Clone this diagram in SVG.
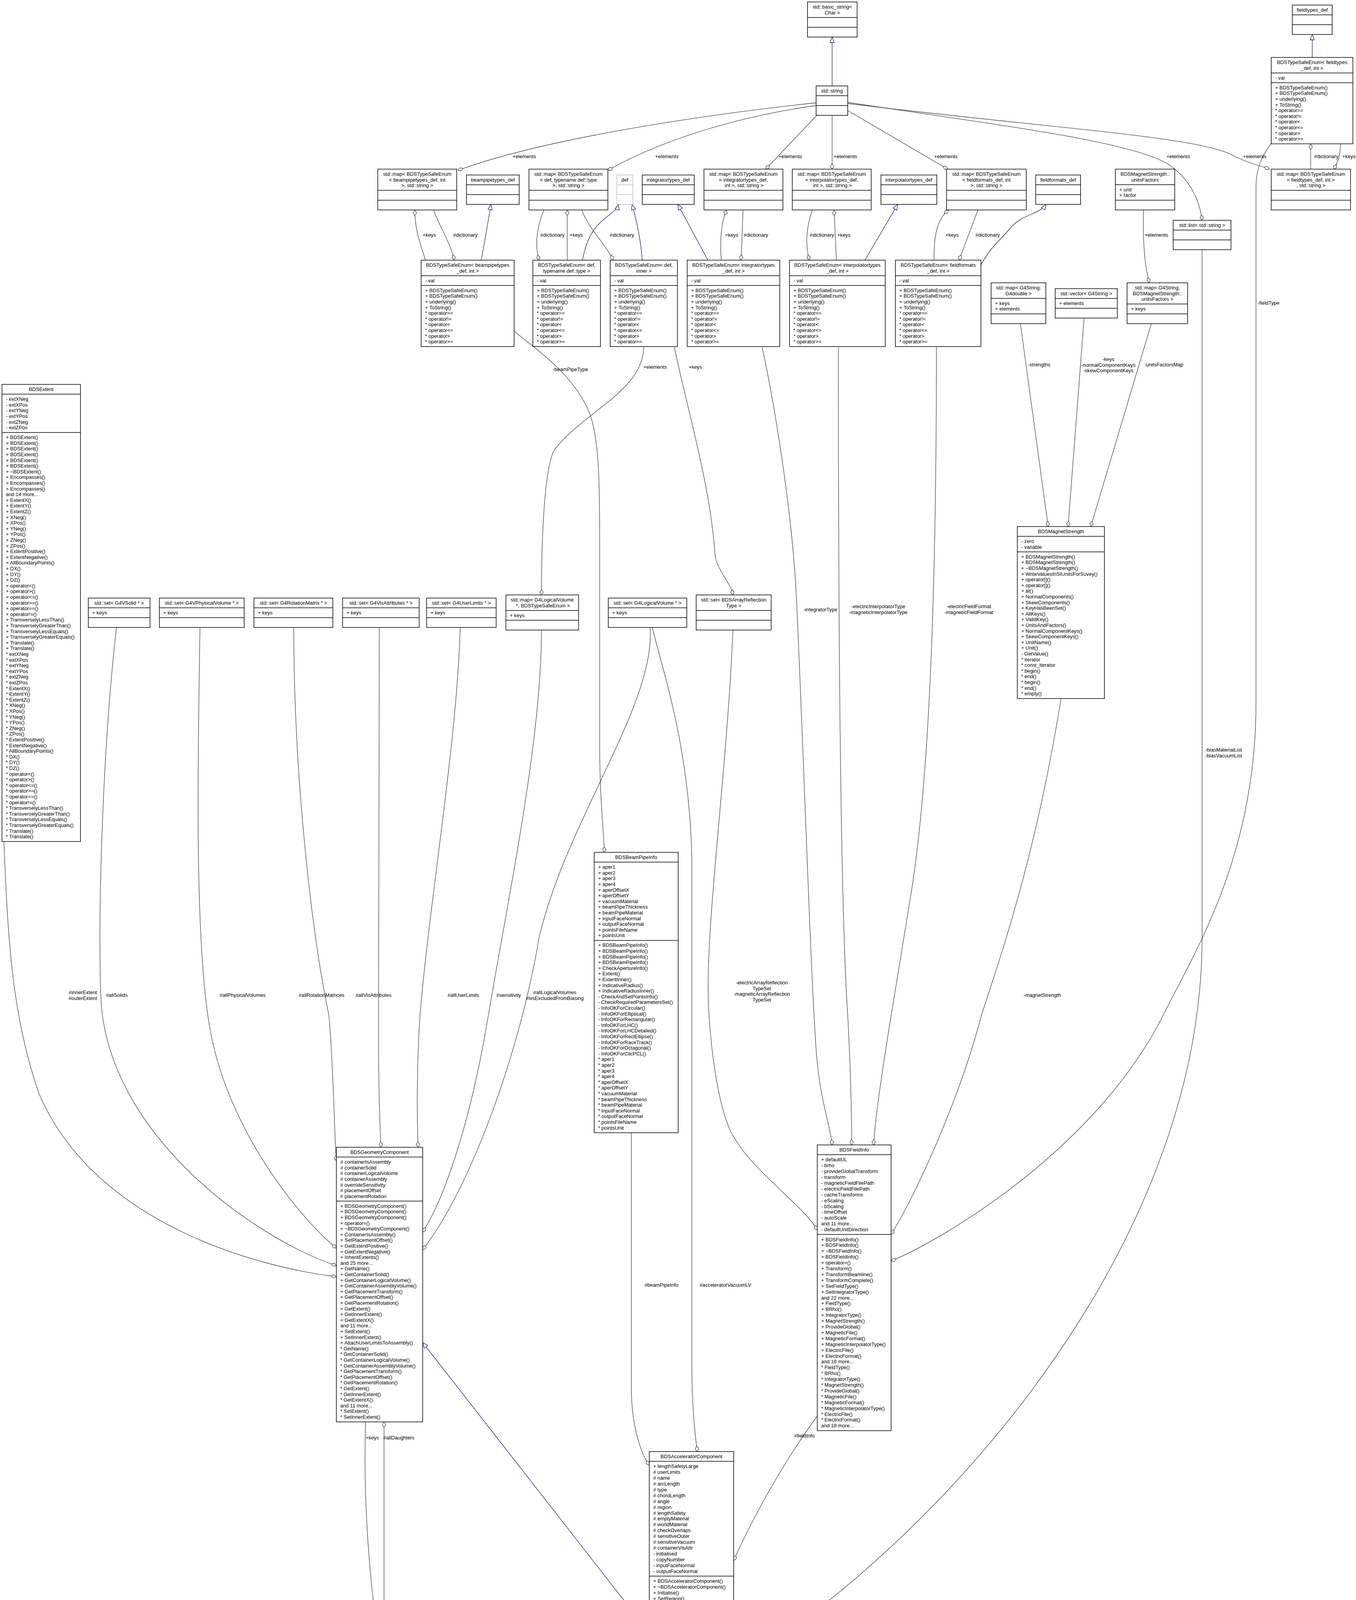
<svg xmlns="http://www.w3.org/2000/svg" width="3471" height="5199" viewBox="0 0 3471 5199">
<style>
text{font-family:"Liberation Sans",Arial,Helvetica,sans-serif;font-size:12.9px;fill:#000}
.c{text-anchor:middle}
.b{fill:#fff;stroke:#000;stroke-width:1.5}
.g{fill:#bfbfbf;stroke:#000;stroke-width:1.5}
.gb{fill:#fff;stroke:#bfbfbf;stroke-width:1.5}
.s{fill:none;stroke:#000;stroke-width:1.5}
.sg{fill:none;stroke:#bfbfbf;stroke-width:1.5}
.e{fill:none;stroke:#404040;stroke-width:1.3;marker-end:url(#dia)}
.i{fill:none;stroke:#191970;stroke-width:1.3;marker-end:url(#tri)}
</style>
<defs>
<marker id="dia" viewBox="-1 -6 16 12" refX="14" refY="0" markerWidth="16" markerHeight="12" markerUnits="userSpaceOnUse" orient="auto"><path d="M0,0 L7,-4.5 L14,0 L7,4.5 Z" fill="#fff" stroke="#404040" stroke-width="1.3"/></marker>
<marker id="tri" viewBox="-1 -7 16 14" refX="14" refY="0" markerWidth="16" markerHeight="14" markerUnits="userSpaceOnUse" orient="auto"><path d="M0,-5.5 L14,0 L0,5.5 Z" fill="#fff" stroke="#191970" stroke-width="1.3"/></marker>
</defs>
<rect width="3471" height="5199" fill="#fff"/>

<g id="connectors">
<path class="i" d="M2130,220 L2130,95"/>
<path class="i" d="M3359,147 L3359,88"/>
<path class="i" d="M1232,666 L1257,523"/>
<path class="i" d="M1491,666 C1505,590 1535,570 1560,550 C1572,540 1580,535 1583,523"/>
<path class="i" d="M1644,666 C1640,610 1628,560 1618,523"/>
<path class="i" d="M1812,666 L1735,523"/>
<path class="i" d="M2214,666 L2298,523"/>
<path class="i" d="M2511,678 C2540,625 2565,612 2585,585 C2620,545 2660,550 2678,523"/>
<path class="i" d="M1662,4180 L1082,3437"/>
<path class="i" d="M1600,5013 C1620,4930 1645,4820 1662,4740"/>
<path class="i" d="M1800,5013 L1803,4954"/>
<path class="e" d="M2089,263 C1750,300 1380,360 1172,436"/>
<path class="e" d="M2089,270 C1880,300 1690,360 1556,436"/>
<path class="e" d="M2091,295 L1960,433"/>
<path class="e" d="M2130,295 L2130,433"/>
<path class="e" d="M2170,283 L2426,433"/>
<path class="e" d="M2170,262 C2550,320 2890,360 2990,420 C3050,460 3072,520 3077,564"/>
<path class="e" d="M2170,265 C2700,330 3080,350 3160,400 C3200,420 3230,425 3249,433"/>
<path class="e" d="M3355,433 L3355,369"/>
<path class="e" d="M3431,369 C3432,395 3425,415 3414,433"/>
<path class="e" d="M1089,666 C1075,620 1062,590 1062,538"/>
<path class="e" d="M1110,538 C1125,580 1150,615 1163,666"/>
<path class="e" d="M1392,538 C1375,580 1368,625 1380,666"/>
<path class="e" d="M1452,666 L1452,538"/>
<path class="e" d="M1489,538 C1510,590 1550,625 1570,666"/>
<path class="e" d="M1846,666 C1843,620 1845,570 1860,538"/>
<path class="e" d="M1902,538 L1897,666"/>
<path class="e" d="M2079,538 C2065,580 2060,625 2072,666"/>
<path class="e" d="M2141,666 L2135,538"/>
<path class="e" d="M2391,666 C2390,600 2400,560 2428,538"/>
<path class="e" d="M2503,538 L2455,666"/>
<path class="e" d="M2927,538 C2925,620 2930,680 2942,724"/>
<path class="e" d="M2612,829 L2683,1348"/>
<path class="e" d="M2775,814 L2734,1348"/>
<path class="e" d="M2947,829 L2792,1348"/>
<path class="e" d="M1316,848 C1380,900 1470,960 1510,1060 C1535,1130 1535,1250 1535,1400 L1535,1900 C1535,2050 1545,2120 1547,2182"/>
<path class="e" d="M1648,889 C1645,1000 1500,1050 1420,1150 C1390,1200 1386,1420 1386,1523"/>
<path class="e" d="M1726,889 C1760,1050 1820,1250 1830,1420 C1835,1460 1870,1490 1876,1523"/>
<path class="e" d="M1951,889 C1975,1000 2030,1300 2040,1560 C2060,2000 2075,2500 2090,2700 C2100,2820 2125,2880 2130,2931"/>
<path class="e" d="M2146,889 C2146,1500 2150,2300 2170,2600 C2178,2750 2180,2850 2180,2931"/>
<path class="e" d="M2397,889 C2397,1500 2380,2000 2330,2300 C2290,2550 2245,2800 2236,2931"/>
<path class="e" d="M1876,1613 C1860,2000 1800,2400 1815,2600 C1825,2750 1850,2870 1881,2915 C1930,3000 2060,3090 2092,3149"/>
<path class="e" d="M2716,1788 C2650,2200 2560,2450 2512,2600 C2460,2800 2350,3050 2281,3160"/>
<path class="e" d="M3254,367 C3230,400 3215,430 3215,480 L3215,1800 C3215,2200 3050,2450 2977,2600 C2800,2950 2400,3180 2281,3228"/>
<path class="e" d="M3077,639 L3077,2400 C3077,3200 2400,3950 1878,4270"/>
<path class="e" d="M2092,3625 C2000,3750 1920,3900 1878,3995"/>
<path class="e" d="M1616,2900 L1616,3550 C1616,3650 1640,3720 1662,3751"/>
<path class="e" d="M1670,1606 C1690,1700 1765,1900 1771,2200 L1771,3500 C1771,3600 1780,3680 1785,3716"/>
<path class="e" d="M1664,1606 C1680,1800 1450,2100 1380,2400 C1330,2700 1200,3050 1082,3199"/>
<path class="e" d="M1386,1613 C1386,1900 1300,2300 1250,2600 C1200,2900 1130,3080 1082,3154"/>
<path class="e" d="M1178,1606 C1170,1900 1100,2300 1075,2600 C1065,2750 1068,2870 1070,2937"/>
<path class="e" d="M971,1606 L969,2600 C968,2800 973,2880 975,2937"/>
<path class="e" d="M752,1606 C752,2000 800,2400 842,2600 C855,2750 855,2900 861,2972"/>
<path class="e" d="M512,1606 C505,2000 500,2400 535,2620 C580,2900 780,3130 861,3195"/>
<path class="e" d="M298,1606 C265,1900 250,2300 258,2550 C270,2900 650,3170 861,3240"/>
<path class="e" d="M10,2154 C20,2400 30,2600 100,2800 C250,3150 700,3250 861,3268"/>
<path class="e" d="M936,3640 C930,3800 940,4000 968,4197"/>
<path class="e" d="M983,4197 L983,3640"/>
<path class="e" d="M1806,5013 L1812,4954"/>
</g>

<g id="edge-labels" class="c">
<text x="1342" y="405">+elements</text>
<text x="1707" y="405">+elements</text>
<text x="2023" y="405">+elements</text>
<text x="2164" y="405">+elements</text>
<text x="2421" y="405">+elements</text>
<text x="3016" y="405">+elements</text>
<text x="3212" y="405">+elements</text>
<text x="3395" y="405">#dictionary</text>
<text x="3453" y="405">+keys</text>
<text x="1099" y="606">+keys</text>
<text x="1191" y="606">#dictionary</text>
<text x="1414" y="606">#dictionary</text>
<text x="1475" y="606">+keys</text>
<text x="1592" y="606">#dictionary</text>
<text x="1873" y="606">+keys</text>
<text x="1935" y="606">#dictionary</text>
<text x="2104" y="606">#dictionary</text>
<text x="2160" y="606">+keys</text>
<text x="2437" y="606">+keys</text>
<text x="2528" y="606">#dictionary</text>
<text x="2960" y="606">+elements</text>
<text x="2660" y="938">-strengths</text>
<text x="2837" y="924">-keys<tspan x="2837" dy="14.6">-normalComponentKeys</tspan><tspan x="2837" dy="14.6">-skewComponentKeys</tspan></text>
<text x="2979" y="938">-unitsFactorsMap</text>
<text x="3247" y="780">-fieldType</text>
<text x="3132" y="1924">-biasMaterialList<tspan x="3132" dy="14.6">-biasVacuumList</tspan></text>
<text x="1460" y="950">-beamPipeType</text>
<text x="1677" y="944">+elements</text>
<text x="1780" y="944">+keys</text>
<text x="2100" y="1565">-integratorType</text>
<text x="2248" y="1557">-electricInterpolatorType<tspan x="2248" dy="14.6">-magneticInterpolatorType</tspan></text>
<text x="2480" y="1557">-electricFieldFormat<tspan x="2480" dy="14.6">-magneticFieldFormat</tspan></text>
<text x="212" y="2545">#innerExtent<tspan x="212" dy="14.6">#outerExtent</tspan></text>
<text x="299" y="2552">#allSolids</text>
<text x="621" y="2552">#allPhysicalVolumes</text>
<text x="823" y="2552">#allRotationMatrices</text>
<text x="956" y="2552">#allVisAttributes</text>
<text x="1186" y="2552">#allUserLimits</text>
<text x="1302" y="2552">#sensitivity</text>
<text x="1420" y="2545">#allLogicalVolumes<tspan x="1420" dy="14.6">#lvsExcludedFromBiasing</tspan></text>
<text x="1950" y="2520">-electricArrayReflection<tspan x="1950" dy="14.6">TypeSet</tspan><tspan x="1950" dy="14.6">-magneticArrayReflection</tspan><tspan x="1950" dy="14.6">TypeSet</tspan></text>
<text x="2668" y="2552">-magnetStrength</text>
<text x="1693" y="3294">#beamPipeInfo</text>
<text x="1857" y="3294">#acceleratorVacuumLV</text>
<text x="2059" y="3680">#fieldInfo</text>
<text x="953" y="3685">+keys</text>
<text x="1021" y="3685">#allDaughters</text>
<text x="1812" y="4975" style="text-anchor:start">#endPieceAfter<tspan x="1812" dy="14.6">#endPieceBefore</tspan></text>
</g>

<g id="n_basic_string">
<rect class="b" x="2067" y="5" width="127" height="89.9"/>
<path class="s" d="M2067,44.7H2194M2067,69.8H2194"/>
<text class="c" x="2130.5" y="22">std::basic_string&lt;<tspan x="2130.5" dy="14.6">Char &gt;</tspan></text>
</g>
<g id="n_fieldtypes_def">
<rect class="b" x="3308" y="13" width="102" height="75.3"/>
<path class="s" d="M3308,38.1H3410M3308,63.2H3410"/>
<text class="c" x="3359" y="30">fieldtypes_def</text>
</g>
<g id="n_string">
<rect class="b" x="2089" y="220" width="81" height="75.3"/>
<path class="s" d="M2089,245.1H2170M2089,270.2H2170"/>
<text class="c" x="2129.5" y="237">std::string</text>
</g>
<g id="n_tse_fieldtypes">
<rect class="b" x="3254" y="147" width="209" height="221.3"/>
<path class="s" d="M3254,186.7H3463M3254,211.8H3463"/>
<text class="c" x="3358.5" y="164">BDSTypeSafeEnum&lt; fieldtypes<tspan x="3358.5" dy="14.6">_def, int &gt;</tspan></text>
<text x="3264" y="203.7">- val</text>
<text x="3264" y="228.8">+ BDSTypeSafeEnum()<tspan x="3264" dy="14.6">+ BDSTypeSafeEnum()</tspan><tspan x="3264" dy="14.6">+ underlying()</tspan><tspan x="3264" dy="14.6">+ ToString()</tspan><tspan x="3264" dy="14.6">* operator==</tspan><tspan x="3264" dy="14.6">* operator!=</tspan><tspan x="3264" dy="14.6">* operator&lt;</tspan><tspan x="3264" dy="14.6">* operator&lt;=</tspan><tspan x="3264" dy="14.6">* operator&gt;</tspan><tspan x="3264" dy="14.6">* operator&gt;=</tspan></text>
</g>

<g id="n_map_beampipe">
<rect class="b" x="967" y="433" width="202" height="104.5"/>
<path class="s" d="M967,487.3H1169M967,512.4H1169"/>
<text class="c" x="1068" y="450">std::map&lt; BDSTypeSafeEnum<tspan x="1068" dy="14.6">&lt; beampipetypes_def, int</tspan><tspan x="1068" dy="14.6">&gt;, std::string &gt;</tspan></text>
</g>
<g id="n_beampipetypes_def">
<rect class="b" x="1194" y="448" width="135" height="75.3"/>
<path class="s" d="M1194,473.1H1329M1194,498.2H1329"/>
<text class="c" x="1261.5" y="465">beampipetypes_def</text>
</g>
<g id="n_map_def">
<rect class="b" x="1354" y="433" width="202" height="104.5"/>
<path class="s" d="M1354,487.3H1556M1354,512.4H1556"/>
<text class="c" x="1455" y="450">std::map&lt; BDSTypeSafeEnum<tspan x="1455" dy="14.6">&lt; def, typename def::type</tspan><tspan x="1455" dy="14.6">&gt;, std::string &gt;</tspan></text>
</g>
<g id="n_def">
<rect class="gb" x="1579" y="448" width="41" height="75.3"/>
<path class="sg" d="M1579,473.1H1620M1579,498.2H1620"/>
<text class="c" x="1599.5" y="465">def</text>
</g>
<g id="n_integratortypes_def">
<rect class="b" x="1644" y="448" width="133" height="75.3"/>
<path class="s" d="M1644,473.1H1777M1644,498.2H1777"/>
<text class="c" x="1710.5" y="465">integratortypes_def</text>
</g>
<g id="n_map_integrator">
<rect class="b" x="1802" y="433" width="202" height="104.5"/>
<path class="s" d="M1802,487.3H2004M1802,512.4H2004"/>
<text class="c" x="1903" y="450">std::map&lt; BDSTypeSafeEnum<tspan x="1903" dy="14.6">&lt; integratortypes_def,</tspan><tspan x="1903" dy="14.6"> int &gt;, std::string &gt;</tspan></text>
</g>
<g id="n_map_interpolator">
<rect class="b" x="2028" y="433" width="202" height="104.5"/>
<path class="s" d="M2028,487.3H2230M2028,512.4H2230"/>
<text class="c" x="2129" y="450">std::map&lt; BDSTypeSafeEnum<tspan x="2129" dy="14.6">&lt; interpolatortypes_def,</tspan><tspan x="2129" dy="14.6"> int &gt;, std::string &gt;</tspan></text>
</g>
<g id="n_interpolatortypes_def">
<rect class="b" x="2255" y="448" width="143" height="75.3"/>
<path class="s" d="M2255,473.1H2398M2255,498.2H2398"/>
<text class="c" x="2326.5" y="465">interpolatortypes_def</text>
</g>
<g id="n_map_fieldformats">
<rect class="b" x="2423" y="433" width="204" height="104.5"/>
<path class="s" d="M2423,487.3H2627M2423,512.4H2627"/>
<text class="c" x="2525" y="450">std::map&lt; BDSTypeSafeEnum<tspan x="2525" dy="14.6">&lt; fieldformats_def, int</tspan><tspan x="2525" dy="14.6">&gt;, std::string &gt;</tspan></text>
</g>
<g id="n_fieldformats_def">
<rect class="b" x="2651" y="448" width="115" height="75.3"/>
<path class="s" d="M2651,473.1H2766M2651,498.2H2766"/>
<text class="c" x="2708.5" y="465">fieldformats_def</text>
</g>
<g id="n_unitsFactors">
<rect class="b" x="2855" y="433" width="152" height="104.5"/>
<path class="s" d="M2855,472.7H3007M2855,512.4H3007"/>
<text class="c" x="2931" y="450">BDSMagnetStrength::<tspan x="2931" dy="14.6">unitsFactors</tspan></text>
<text x="2865" y="489.7">+ unit<tspan x="2865" dy="14.6">+ factor</tspan></text>
</g>
<g id="n_list_string">
<rect class="b" x="3003" y="564" width="148" height="75.3"/>
<path class="s" d="M3003,589.1H3151M3003,614.2H3151"/>
<text class="c" x="3077" y="581">std::list&lt; std::string &gt;</text>
</g>
<g id="n_map_fieldtypes">
<rect class="b" x="3254" y="433" width="203" height="104.5"/>
<path class="s" d="M3254,487.3H3457M3254,512.4H3457"/>
<text class="c" x="3355.5" y="450">std::map&lt; BDSTypeSafeEnum<tspan x="3355.5" dy="14.6">&lt; fieldtypes_def, int &gt;</tspan><tspan x="3355.5" dy="14.6">, std::string &gt;</tspan></text>
</g>

<g id="n_tse_beampipe">
<rect class="b" x="1078" y="666" width="238" height="221.3"/>
<path class="s" d="M1078,705.7H1316M1078,730.8H1316"/>
<text class="c" x="1197" y="683">BDSTypeSafeEnum&lt; beampipetypes<tspan x="1197" dy="14.6">_def, int &gt;</tspan></text>
<text x="1088" y="722.7">- val</text>
<text x="1088" y="747.8">+ BDSTypeSafeEnum()<tspan x="1088" dy="14.6">+ BDSTypeSafeEnum()</tspan><tspan x="1088" dy="14.6">+ underlying()</tspan><tspan x="1088" dy="14.6">+ ToString()</tspan><tspan x="1088" dy="14.6">* operator==</tspan><tspan x="1088" dy="14.6">* operator!=</tspan><tspan x="1088" dy="14.6">* operator&lt;</tspan><tspan x="1088" dy="14.6">* operator&lt;=</tspan><tspan x="1088" dy="14.6">* operator&gt;</tspan><tspan x="1088" dy="14.6">* operator&gt;=</tspan></text>
</g>
<g id="n_tse_def_type">
<rect class="b" x="1364" y="666" width="173" height="221.3"/>
<path class="s" d="M1364,705.7H1537M1364,730.8H1537"/>
<text class="c" x="1450.5" y="683">BDSTypeSafeEnum&lt; def,<tspan x="1450.5" dy="14.6">typename def::type &gt;</tspan></text>
<text x="1374" y="722.7">- val</text>
<text x="1374" y="747.8">+ BDSTypeSafeEnum()<tspan x="1374" dy="14.6">+ BDSTypeSafeEnum()</tspan><tspan x="1374" dy="14.6">+ underlying()</tspan><tspan x="1374" dy="14.6">+ ToString()</tspan><tspan x="1374" dy="14.6">* operator==</tspan><tspan x="1374" dy="14.6">* operator!=</tspan><tspan x="1374" dy="14.6">* operator&lt;</tspan><tspan x="1374" dy="14.6">* operator&lt;=</tspan><tspan x="1374" dy="14.6">* operator&gt;</tspan><tspan x="1374" dy="14.6">* operator&gt;=</tspan></text>
</g>
<g id="n_tse_def_inner">
<rect class="b" x="1562" y="666" width="172" height="221.3"/>
<path class="s" d="M1562,705.7H1734M1562,730.8H1734"/>
<text class="c" x="1648" y="683">BDSTypeSafeEnum&lt; def,<tspan x="1648" dy="14.6">inner &gt;</tspan></text>
<text x="1572" y="722.7">- val</text>
<text x="1572" y="747.8">+ BDSTypeSafeEnum()<tspan x="1572" dy="14.6">+ BDSTypeSafeEnum()</tspan><tspan x="1572" dy="14.6">+ underlying()</tspan><tspan x="1572" dy="14.6">+ ToString()</tspan><tspan x="1572" dy="14.6">* operator==</tspan><tspan x="1572" dy="14.6">* operator!=</tspan><tspan x="1572" dy="14.6">* operator&lt;</tspan><tspan x="1572" dy="14.6">* operator&lt;=</tspan><tspan x="1572" dy="14.6">* operator&gt;</tspan><tspan x="1572" dy="14.6">* operator&gt;=</tspan></text>
</g>
<g id="n_tse_integrator">
<rect class="b" x="1759" y="666" width="237" height="221.3"/>
<path class="s" d="M1759,705.7H1996M1759,730.8H1996"/>
<text class="c" x="1877.5" y="683">BDSTypeSafeEnum&lt; integratortypes<tspan x="1877.5" dy="14.6">_def, int &gt;</tspan></text>
<text x="1769" y="722.7">- val</text>
<text x="1769" y="747.8">+ BDSTypeSafeEnum()<tspan x="1769" dy="14.6">+ BDSTypeSafeEnum()</tspan><tspan x="1769" dy="14.6">+ underlying()</tspan><tspan x="1769" dy="14.6">+ ToString()</tspan><tspan x="1769" dy="14.6">* operator==</tspan><tspan x="1769" dy="14.6">* operator!=</tspan><tspan x="1769" dy="14.6">* operator&lt;</tspan><tspan x="1769" dy="14.6">* operator&lt;=</tspan><tspan x="1769" dy="14.6">* operator&gt;</tspan><tspan x="1769" dy="14.6">* operator&gt;=</tspan></text>
</g>
<g id="n_tse_interpolator">
<rect class="b" x="2021" y="666" width="245" height="221.3"/>
<path class="s" d="M2021,705.7H2266M2021,730.8H2266"/>
<text class="c" x="2143.5" y="683">BDSTypeSafeEnum&lt; interpolatortypes<tspan x="2143.5" dy="14.6">_def, int &gt;</tspan></text>
<text x="2031" y="722.7">- val</text>
<text x="2031" y="747.8">+ BDSTypeSafeEnum()<tspan x="2031" dy="14.6">+ BDSTypeSafeEnum()</tspan><tspan x="2031" dy="14.6">+ underlying()</tspan><tspan x="2031" dy="14.6">+ ToString()</tspan><tspan x="2031" dy="14.6">* operator==</tspan><tspan x="2031" dy="14.6">* operator!=</tspan><tspan x="2031" dy="14.6">* operator&lt;</tspan><tspan x="2031" dy="14.6">* operator&lt;=</tspan><tspan x="2031" dy="14.6">* operator&gt;</tspan><tspan x="2031" dy="14.6">* operator&gt;=</tspan></text>
</g>
<g id="n_tse_fieldformats">
<rect class="b" x="2292" y="666" width="219" height="221.3"/>
<path class="s" d="M2292,705.7H2511M2292,730.8H2511"/>
<text class="c" x="2401.5" y="683">BDSTypeSafeEnum&lt; fieldformats<tspan x="2401.5" dy="14.6">_def, int &gt;</tspan></text>
<text x="2302" y="722.7">- val</text>
<text x="2302" y="747.8">+ BDSTypeSafeEnum()<tspan x="2302" dy="14.6">+ BDSTypeSafeEnum()</tspan><tspan x="2302" dy="14.6">+ underlying()</tspan><tspan x="2302" dy="14.6">+ ToString()</tspan><tspan x="2302" dy="14.6">* operator==</tspan><tspan x="2302" dy="14.6">* operator!=</tspan><tspan x="2302" dy="14.6">* operator&lt;</tspan><tspan x="2302" dy="14.6">* operator&lt;=</tspan><tspan x="2302" dy="14.6">* operator&gt;</tspan><tspan x="2302" dy="14.6">* operator&gt;=</tspan></text>
</g>

<g id="n_map_g4double">
<rect class="b" x="2537" y="724" width="140" height="104.5"/>
<path class="s" d="M2537,763.7H2677M2537,803.4H2677"/>
<text class="c" x="2607" y="741">std::map&lt; G4String,<tspan x="2607" dy="14.6">G4double &gt;</tspan></text>
<text x="2547" y="780.7">+ keys<tspan x="2547" dy="14.6">+ elements</tspan></text>
</g>
<g id="n_vector_g4string">
<rect class="b" x="2701" y="739" width="159" height="75.3"/>
<path class="s" d="M2701,764.1H2860M2701,789.2H2860"/>
<text class="c" x="2780.5" y="756">std::vector&lt; G4String &gt;</text>
<text x="2711" y="781.1">+ elements</text>
</g>
<g id="n_map_unitsfactors">
<rect class="b" x="2885" y="724" width="155" height="104.5"/>
<path class="s" d="M2885,778.3H3040M2885,803.4H3040"/>
<text class="c" x="2962.5" y="741">std::map&lt; G4String,<tspan x="2962.5" dy="14.6">BDSMagnetStrength::</tspan><tspan x="2962.5" dy="14.6">unitsFactors &gt;</tspan></text>
<text x="2895" y="795.3">+ keys</text>
</g>

<g id="n_BDSExtent">
<rect class="b" x="5" y="984" width="201" height="1170.3"/>
<path class="s" d="M5,1009.1H206M5,1107.2H206"/>
<text class="c" x="105.5" y="1001">BDSExtent</text>
<text x="15" y="1026.1">- extXNeg<tspan x="15" dy="14.6">- extXPos</tspan><tspan x="15" dy="14.6">- extYNeg</tspan><tspan x="15" dy="14.6">- extYPos</tspan><tspan x="15" dy="14.6">- extZNeg</tspan><tspan x="15" dy="14.6">- extZPos</tspan></text>
<text x="15" y="1124.2">+ BDSExtent()<tspan x="15" dy="14.6">+ BDSExtent()</tspan><tspan x="15" dy="14.6">+ BDSExtent()</tspan><tspan x="15" dy="14.6">+ BDSExtent()</tspan><tspan x="15" dy="14.6">+ BDSExtent()</tspan><tspan x="15" dy="14.6">+ BDSExtent()</tspan><tspan x="15" dy="14.6">+ ~BDSExtent()</tspan><tspan x="15" dy="14.6">+ Encompasses()</tspan><tspan x="15" dy="14.6">+ Encompasses()</tspan><tspan x="15" dy="14.6">+ Encompasses()</tspan><tspan x="15" dy="14.6">and 14 more...</tspan><tspan x="15" dy="14.6">+ ExtentX()</tspan><tspan x="15" dy="14.6">+ ExtentY()</tspan><tspan x="15" dy="14.6">+ ExtentZ()</tspan><tspan x="15" dy="14.6">+ XNeg()</tspan><tspan x="15" dy="14.6">+ XPos()</tspan><tspan x="15" dy="14.6">+ YNeg()</tspan><tspan x="15" dy="14.6">+ YPos()</tspan><tspan x="15" dy="14.6">+ ZNeg()</tspan><tspan x="15" dy="14.6">+ ZPos()</tspan><tspan x="15" dy="14.6">+ ExtentPositive()</tspan><tspan x="15" dy="14.6">+ ExtentNegative()</tspan><tspan x="15" dy="14.6">+ AllBoundaryPoints()</tspan><tspan x="15" dy="14.6">+ DX()</tspan><tspan x="15" dy="14.6">+ DY()</tspan><tspan x="15" dy="14.6">+ DZ()</tspan><tspan x="15" dy="14.6">+ operator&lt;()</tspan><tspan x="15" dy="14.6">+ operator&gt;()</tspan><tspan x="15" dy="14.6">+ operator&lt;=()</tspan><tspan x="15" dy="14.6">+ operator&gt;=()</tspan><tspan x="15" dy="14.6">+ operator==()</tspan><tspan x="15" dy="14.6">+ operator!=()</tspan><tspan x="15" dy="14.6">+ TransverselyLessThan()</tspan><tspan x="15" dy="14.6">+ TransverselyGreaterThan()</tspan><tspan x="15" dy="14.6">+ TransverselyLessEquals()</tspan><tspan x="15" dy="14.6">+ TransverselyGreaterEquals()</tspan><tspan x="15" dy="14.6">+ Translate()</tspan><tspan x="15" dy="14.6">+ Translate()</tspan><tspan x="15" dy="14.6">* extXNeg</tspan><tspan x="15" dy="14.6">* extXPos</tspan><tspan x="15" dy="14.6">* extYNeg</tspan><tspan x="15" dy="14.6">* extYPos</tspan><tspan x="15" dy="14.6">* extZNeg</tspan><tspan x="15" dy="14.6">* extZPos</tspan><tspan x="15" dy="14.6">* ExtentX()</tspan><tspan x="15" dy="14.6">* ExtentY()</tspan><tspan x="15" dy="14.6">* ExtentZ()</tspan><tspan x="15" dy="14.6">* XNeg()</tspan><tspan x="15" dy="14.6">* XPos()</tspan><tspan x="15" dy="14.6">* YNeg()</tspan><tspan x="15" dy="14.6">* YPos()</tspan><tspan x="15" dy="14.6">* ZNeg()</tspan><tspan x="15" dy="14.6">* ZPos()</tspan><tspan x="15" dy="14.6">* ExtentPositive()</tspan><tspan x="15" dy="14.6">* ExtentNegative()</tspan><tspan x="15" dy="14.6">* AllBoundaryPoints()</tspan><tspan x="15" dy="14.6">* DX()</tspan><tspan x="15" dy="14.6">* DY()</tspan><tspan x="15" dy="14.6">* DZ()</tspan><tspan x="15" dy="14.6">* operator&lt;()</tspan><tspan x="15" dy="14.6">* operator&gt;()</tspan><tspan x="15" dy="14.6">* operator&lt;=()</tspan><tspan x="15" dy="14.6">* operator&gt;=()</tspan><tspan x="15" dy="14.6">* operator==()</tspan><tspan x="15" dy="14.6">* operator!=()</tspan><tspan x="15" dy="14.6">* TransverselyLessThan()</tspan><tspan x="15" dy="14.6">* TransverselyGreaterThan()</tspan><tspan x="15" dy="14.6">* TransverselyLessEquals()</tspan><tspan x="15" dy="14.6">* TransverselyGreaterEquals()</tspan><tspan x="15" dy="14.6">* Translate()</tspan><tspan x="15" dy="14.6">* Translate()</tspan></text>
</g>

<g id="n_BDSMagnetStrength">
<rect class="b" x="2604" y="1348" width="223" height="440.3"/>
<path class="s" d="M2604,1373.1H2827M2604,1412.8H2827"/>
<text class="c" x="2715.5" y="1365">BDSMagnetStrength</text>
<text x="2614" y="1390.1">- zero<tspan x="2614" dy="14.6">- variable</tspan></text>
<text x="2614" y="1429.8">+ BDSMagnetStrength()<tspan x="2614" dy="14.6">+ BDSMagnetStrength()</tspan><tspan x="2614" dy="14.6">+ ~BDSMagnetStrength()</tspan><tspan x="2614" dy="14.6">+ WriteValuesInSIUnitsForSuvey()</tspan><tspan x="2614" dy="14.6">+ operator[]()</tspan><tspan x="2614" dy="14.6">+ operator[]()</tspan><tspan x="2614" dy="14.6">+ at()</tspan><tspan x="2614" dy="14.6">+ NormalComponents()</tspan><tspan x="2614" dy="14.6">+ SkewComponents()</tspan><tspan x="2614" dy="14.6">+ KeyHasBeenSet()</tspan><tspan x="2614" dy="14.6">+ AllKeys()</tspan><tspan x="2614" dy="14.6">+ ValidKey()</tspan><tspan x="2614" dy="14.6">+ UnitsAndFactors()</tspan><tspan x="2614" dy="14.6">+ NormalComponentKeys()</tspan><tspan x="2614" dy="14.6">+ SkewComponentKeys()</tspan><tspan x="2614" dy="14.6">+ UnitName()</tspan><tspan x="2614" dy="14.6">+ Unit()</tspan><tspan x="2614" dy="14.6">- GetValue()</tspan><tspan x="2614" dy="14.6">* iterator</tspan><tspan x="2614" dy="14.6">* const_iterator</tspan><tspan x="2614" dy="14.6">* begin()</tspan><tspan x="2614" dy="14.6">* end()</tspan><tspan x="2614" dy="14.6">* begin()</tspan><tspan x="2614" dy="14.6">* end()</tspan><tspan x="2614" dy="14.6">* empty()</tspan></text>
</g>

<g id="n_set_solid">
<rect class="b" x="226" y="1531" width="158" height="75.3"/>
<path class="s" d="M226,1556.1H384M226,1581.2H384"/>
<text class="c" x="305" y="1548">std::set&lt; G4VSolid * &gt;</text>
<text x="236" y="1573.1">+ keys</text>
</g>
<g id="n_set_pv">
<rect class="b" x="408" y="1531" width="217" height="75.3"/>
<path class="s" d="M408,1556.1H625M408,1581.2H625"/>
<text class="c" x="516.5" y="1548">std::set&lt; G4VPhysicalVolume * &gt;</text>
<text x="418" y="1573.1">+ keys</text>
</g>
<g id="n_set_rot">
<rect class="b" x="650" y="1531" width="202" height="75.3"/>
<path class="s" d="M650,1556.1H852M650,1581.2H852"/>
<text class="c" x="751" y="1548">std::set&lt; G4RotationMatrix * &gt;</text>
<text x="660" y="1573.1">+ keys</text>
</g>
<g id="n_set_vis">
<rect class="b" x="877" y="1531" width="196" height="75.3"/>
<path class="s" d="M877,1556.1H1073M877,1581.2H1073"/>
<text class="c" x="975" y="1548">std::set&lt; G4VisAttributes * &gt;</text>
<text x="887" y="1573.1">+ keys</text>
</g>
<g id="n_set_ul">
<rect class="b" x="1092" y="1531" width="178" height="75.3"/>
<path class="s" d="M1092,1556.1H1270M1092,1581.2H1270"/>
<text class="c" x="1181" y="1548">std::set&lt; G4UserLimits * &gt;</text>
<text x="1102" y="1573.1">+ keys</text>
</g>
<g id="n_map_lv">
<rect class="b" x="1295" y="1523" width="186" height="89.9"/>
<path class="s" d="M1295,1562.7H1481M1295,1587.8H1481"/>
<text class="c" x="1388" y="1540">std::map&lt; G4LogicalVolume<tspan x="1388" dy="14.6"> *, BDSTypeSafeEnum &gt;</tspan></text>
<text x="1305" y="1579.7">+ keys</text>
</g>
<g id="n_set_lv">
<rect class="b" x="1557" y="1531" width="201" height="75.3"/>
<path class="s" d="M1557,1556.1H1758M1557,1581.2H1758"/>
<text class="c" x="1657.5" y="1548">std::set&lt; G4LogicalVolume * &gt;</text>
<text x="1567" y="1573.1">+ keys</text>
</g>
<g id="n_set_refl">
<rect class="b" x="1782" y="1523" width="192" height="89.9"/>
<path class="s" d="M1782,1562.7H1974M1782,1587.8H1974"/>
<text class="c" x="1878" y="1540">std::set&lt; BDSArrayReflection<tspan x="1878" dy="14.6">Type &gt;</tspan></text>
</g>

<g id="n_BDSBeamPipeInfo">
<rect class="b" x="1521" y="2182" width="215" height="717.7"/>
<path class="s" d="M1521,2207.1H1736M1521,2407.4H1736"/>
<text class="c" x="1628.5" y="2199">BDSBeamPipeInfo</text>
<text x="1531" y="2224.1">+ aper1<tspan x="1531" dy="14.6">+ aper2</tspan><tspan x="1531" dy="14.6">+ aper3</tspan><tspan x="1531" dy="14.6">+ aper4</tspan><tspan x="1531" dy="14.6">+ aperOffsetX</tspan><tspan x="1531" dy="14.6">+ aperOffsetY</tspan><tspan x="1531" dy="14.6">+ vacuumMaterial</tspan><tspan x="1531" dy="14.6">+ beamPipeThickness</tspan><tspan x="1531" dy="14.6">+ beamPipeMaterial</tspan><tspan x="1531" dy="14.6">+ inputFaceNormal</tspan><tspan x="1531" dy="14.6">+ outputFaceNormal</tspan><tspan x="1531" dy="14.6">+ pointsFileName</tspan><tspan x="1531" dy="14.6">+ pointsUnit</tspan></text>
<text x="1531" y="2424.4">+ BDSBeamPipeInfo()<tspan x="1531" dy="14.6">+ BDSBeamPipeInfo()</tspan><tspan x="1531" dy="14.6">+ BDSBeamPipeInfo()</tspan><tspan x="1531" dy="14.6">+ BDSBeamPipeInfo()</tspan><tspan x="1531" dy="14.6">+ CheckApertureInfo()</tspan><tspan x="1531" dy="14.6">+ Extent()</tspan><tspan x="1531" dy="14.6">+ ExtentInner()</tspan><tspan x="1531" dy="14.6">+ IndicativeRadius()</tspan><tspan x="1531" dy="14.6">+ IndicativeRadiusInner()</tspan><tspan x="1531" dy="14.6">- CheckAndSetPointsInfo()</tspan><tspan x="1531" dy="14.6">- CheckRequiredParametersSet()</tspan><tspan x="1531" dy="14.6">- InfoOKForCircular()</tspan><tspan x="1531" dy="14.6">- InfoOKForElliptical()</tspan><tspan x="1531" dy="14.6">- InfoOKForRectangular()</tspan><tspan x="1531" dy="14.6">- InfoOKForLHC()</tspan><tspan x="1531" dy="14.6">- InfoOKForLHCDetailed()</tspan><tspan x="1531" dy="14.6">- InfoOKForRectEllipse()</tspan><tspan x="1531" dy="14.6">- InfoOKForRaceTrack()</tspan><tspan x="1531" dy="14.6">- InfoOKForOctagonal()</tspan><tspan x="1531" dy="14.6">- InfoOKForClicPCL()</tspan><tspan x="1531" dy="14.6">* aper1</tspan><tspan x="1531" dy="14.6">* aper2</tspan><tspan x="1531" dy="14.6">* aper3</tspan><tspan x="1531" dy="14.6">* aper4</tspan><tspan x="1531" dy="14.6">* aperOffsetX</tspan><tspan x="1531" dy="14.6">* aperOffsetY</tspan><tspan x="1531" dy="14.6">* vacuumMaterial</tspan><tspan x="1531" dy="14.6">* beamPipeThickness</tspan><tspan x="1531" dy="14.6">* beamPipeMaterial</tspan><tspan x="1531" dy="14.6">* inputFaceNormal</tspan><tspan x="1531" dy="14.6">* outputFaceNormal</tspan><tspan x="1531" dy="14.6">* pointsFileName</tspan><tspan x="1531" dy="14.6">* pointsUnit</tspan></text>
</g>

<g id="n_BDSGeometryComponent">
<rect class="b" x="861" y="2937" width="221" height="703.1"/>
<path class="s" d="M861,2962.1H1082M861,3074.8H1082"/>
<text class="c" x="971.5" y="2954">BDSGeometryComponent</text>
<text x="871" y="2979.1"># containerIsAssembly<tspan x="871" dy="14.6"># containerSolid</tspan><tspan x="871" dy="14.6"># containerLogicalVolume</tspan><tspan x="871" dy="14.6"># containerAssembly</tspan><tspan x="871" dy="14.6"># overrideSensitivity</tspan><tspan x="871" dy="14.6"># placementOffset</tspan><tspan x="871" dy="14.6"># placementRotation</tspan></text>
<text x="871" y="3091.8">+ BDSGeometryComponent()<tspan x="871" dy="14.6">+ BDSGeometryComponent()</tspan><tspan x="871" dy="14.6">+ BDSGeometryComponent()</tspan><tspan x="871" dy="14.6">+ operator=()</tspan><tspan x="871" dy="14.6">+ ~BDSGeometryComponent()</tspan><tspan x="871" dy="14.6">+ ContainerIsAssembly()</tspan><tspan x="871" dy="14.6">+ SetPlacementOffset()</tspan><tspan x="871" dy="14.6">+ GetExtentPositive()</tspan><tspan x="871" dy="14.6">+ GetExtentNegative()</tspan><tspan x="871" dy="14.6">+ InheritExtents()</tspan><tspan x="871" dy="14.6">and 25 more...</tspan><tspan x="871" dy="14.6">+ GetName()</tspan><tspan x="871" dy="14.6">+ GetContainerSolid()</tspan><tspan x="871" dy="14.6">+ GetContainerLogicalVolume()</tspan><tspan x="871" dy="14.6">+ GetContainerAssemblyVolume()</tspan><tspan x="871" dy="14.6">+ GetPlacementTransform()</tspan><tspan x="871" dy="14.6">+ GetPlacementOffset()</tspan><tspan x="871" dy="14.6">+ GetPlacementRotation()</tspan><tspan x="871" dy="14.6">+ GetExtent()</tspan><tspan x="871" dy="14.6">+ GetInnerExtent()</tspan><tspan x="871" dy="14.6">+ GetExtentX()</tspan><tspan x="871" dy="14.6">and 11 more...</tspan><tspan x="871" dy="14.6">+ SetExtent()</tspan><tspan x="871" dy="14.6">+ SetInnerExtent()</tspan><tspan x="871" dy="14.6">+ AttachUserLimitsToAssembly()</tspan><tspan x="871" dy="14.6">* GetName()</tspan><tspan x="871" dy="14.6">* GetContainerSolid()</tspan><tspan x="871" dy="14.6">* GetContainerLogicalVolume()</tspan><tspan x="871" dy="14.6">* GetContainerAssemblyVolume()</tspan><tspan x="871" dy="14.6">* GetPlacementTransform()</tspan><tspan x="871" dy="14.6">* GetPlacementOffset()</tspan><tspan x="871" dy="14.6">* GetPlacementRotation()</tspan><tspan x="871" dy="14.6">* GetExtent()</tspan><tspan x="871" dy="14.6">* GetInnerExtent()</tspan><tspan x="871" dy="14.6">* GetExtentX()</tspan><tspan x="871" dy="14.6">and 11 more...</tspan><tspan x="871" dy="14.6">* SetExtent()</tspan><tspan x="871" dy="14.6">* SetInnerExtent()</tspan></text>
</g>

<g id="n_BDSFieldInfo">
<rect class="b" x="2092" y="2931" width="189" height="731.5"/>
<path class="s" d="M2092,2956.1H2281M2092,3160.3H2281"/>
<text class="c" x="2186.5" y="2948">BDSFieldInfo</text>
<text x="2102" y="2973.3">+ defaultUL<tspan x="2102" dy="14.9">- brho</tspan><tspan x="2102" dy="14.9">- provideGlobalTransform</tspan><tspan x="2102" dy="14.9">- transform</tspan><tspan x="2102" dy="14.9">- magneticFieldFilePath</tspan><tspan x="2102" dy="14.9">- electricFieldFilePath</tspan><tspan x="2102" dy="14.9">- cacheTransforms</tspan><tspan x="2102" dy="14.9">- eScaling</tspan><tspan x="2102" dy="14.9">- bScaling</tspan><tspan x="2102" dy="14.9">- timeOffset</tspan><tspan x="2102" dy="14.9">- autoScale</tspan><tspan x="2102" dy="14.9">and 11 more...</tspan><tspan x="2102" dy="14.9">- defaultUnitDirection</tspan></text>
<text x="2102" y="3177.5">+ BDSFieldInfo()<tspan x="2102" dy="14.9">+ BDSFieldInfo()</tspan><tspan x="2102" dy="14.9">+ ~BDSFieldInfo()</tspan><tspan x="2102" dy="14.9">+ BDSFieldInfo()</tspan><tspan x="2102" dy="14.9">+ operator=()</tspan><tspan x="2102" dy="14.9">+ Transform()</tspan><tspan x="2102" dy="14.9">+ TransformBeamline()</tspan><tspan x="2102" dy="14.9">+ TransformComplete()</tspan><tspan x="2102" dy="14.9">+ SetFieldType()</tspan><tspan x="2102" dy="14.9">+ SetIntegratorType()</tspan><tspan x="2102" dy="14.9">and 22 more...</tspan><tspan x="2102" dy="14.9">+ FieldType()</tspan><tspan x="2102" dy="14.9">+ BRho()</tspan><tspan x="2102" dy="14.9">+ IntegratorType()</tspan><tspan x="2102" dy="14.9">+ MagnetStrength()</tspan><tspan x="2102" dy="14.9">+ ProvideGlobal()</tspan><tspan x="2102" dy="14.9">+ MagneticFile()</tspan><tspan x="2102" dy="14.9">+ MagneticFormat()</tspan><tspan x="2102" dy="14.9">+ MagneticInterpolatorType()</tspan><tspan x="2102" dy="14.9">+ ElectricFile()</tspan><tspan x="2102" dy="14.9">+ ElectricFormat()</tspan><tspan x="2102" dy="14.9">and 18 more...</tspan><tspan x="2102" dy="14.9">* FieldType()</tspan><tspan x="2102" dy="14.9">* BRho()</tspan><tspan x="2102" dy="14.9">* IntegratorType()</tspan><tspan x="2102" dy="14.9">* MagnetStrength()</tspan><tspan x="2102" dy="14.9">* ProvideGlobal()</tspan><tspan x="2102" dy="14.9">* MagneticFile()</tspan><tspan x="2102" dy="14.9">* MagneticFormat()</tspan><tspan x="2102" dy="14.9">* MagneticInterpolatorType()</tspan><tspan x="2102" dy="14.9">* ElectricFile()</tspan><tspan x="2102" dy="14.9">* ElectricFormat()</tspan><tspan x="2102" dy="14.9">and 18 more...</tspan></text>
</g>

<g id="n_BDSAcceleratorComponent">
<rect class="b" x="1662" y="3716" width="216" height="1238.1"/>
<path class="s" d="M1662,3741.1H1878M1662,4034.7H1878"/>
<text class="c" x="1770" y="3733">BDSAcceleratorComponent</text>
<text x="1672" y="3758.3">+ lengthSafetyLarge<tspan x="1672" dy="14.9"># userLimits</tspan><tspan x="1672" dy="14.9"># name</tspan><tspan x="1672" dy="14.9"># arcLength</tspan><tspan x="1672" dy="14.9"># type</tspan><tspan x="1672" dy="14.9"># chordLength</tspan><tspan x="1672" dy="14.9"># angle</tspan><tspan x="1672" dy="14.9"># region</tspan><tspan x="1672" dy="14.9"># lengthSafety</tspan><tspan x="1672" dy="14.9"># emptyMaterial</tspan><tspan x="1672" dy="14.9"># worldMaterial</tspan><tspan x="1672" dy="14.9"># checkOverlaps</tspan><tspan x="1672" dy="14.9"># sensitiveOuter</tspan><tspan x="1672" dy="14.9"># sensitiveVacuum</tspan><tspan x="1672" dy="14.9"># containerVisAttr</tspan><tspan x="1672" dy="14.9">- initialised</tspan><tspan x="1672" dy="14.9">- copyNumber</tspan><tspan x="1672" dy="14.9">- inputFaceNormal</tspan><tspan x="1672" dy="14.9">- outputFaceNormal</tspan></text>
<text x="1672" y="4051.9">+ BDSAcceleratorComponent()<tspan x="1672" dy="14.9">+ ~BDSAcceleratorComponent()</tspan><tspan x="1672" dy="14.9">+ Initialise()</tspan><tspan x="1672" dy="14.9">+ SetRegion()</tspan><tspan x="1672" dy="14.9">+ SetField()</tspan><tspan x="1672" dy="14.9">+ SetMinimumKineticEnergy()</tspan><tspan x="1672" dy="14.9">+ GetName()</tspan><tspan x="1672" dy="14.9">+ GetAngle()</tspan><tspan x="1672" dy="14.9">+ Sagitta()</tspan><tspan x="1672" dy="14.9">+ GetType()</tspan><tspan x="1672" dy="14.9">and 11 more...</tspan><tspan x="1672" dy="14.9">+ SetBiasVacuumList()</tspan><tspan x="1672" dy="14.9">+ SetBiasMaterialList()</tspan><tspan x="1672" dy="14.9">+ GetArcLength()</tspan><tspan x="1672" dy="14.9">+ GetChordLength()</tspan><tspan x="1672" dy="14.9">+ InputFaceNormal()</tspan><tspan x="1672" dy="14.9">+ OutputFaceNormal()</tspan><tspan x="1672" dy="14.9">+ AngledInputFace()</tspan><tspan x="1672" dy="14.9">+ AngledOutputFace()</tspan><tspan x="1672" dy="14.9">+ GetBiasVacuumList()</tspan><tspan x="1672" dy="14.9">+ GetBiasMaterialList()</tspan><tspan x="1672" dy="14.9">+ SetInputFaceNormal()</tspan><tspan x="1672" dy="14.9">+ SetOutputFaceNormal()</tspan><tspan x="1672" dy="14.9"># Build()</tspan><tspan x="1672" dy="14.9"># BuildContainerLogicalVolume()</tspan><tspan x="1672" dy="14.9"># SetAcceleratorVacuumLogical</tspan><tspan x="1672" dy="14.9">Volume()</tspan><tspan x="1672" dy="14.9"># SetAcceleratorVacuumLogical</tspan><tspan x="1672" dy="14.9">Volume()</tspan><tspan x="1672" dy="14.9"># BuildUserLimits()</tspan><tspan x="1672" dy="14.9"># AttachUserLimits()</tspan><tspan x="1672" dy="14.9">- BDSAcceleratorComponent()</tspan><tspan x="1672" dy="14.9">- operator=()</tspan><tspan x="1672" dy="14.9">- BDSAcceleratorComponent()</tspan><tspan x="1672" dy="14.9">* name</tspan><tspan x="1672" dy="14.9">* arcLength</tspan><tspan x="1672" dy="14.9">* type</tspan><tspan x="1672" dy="14.9">* chordLength</tspan><tspan x="1672" dy="14.9">* angle</tspan><tspan x="1672" dy="14.9">* region</tspan><tspan x="1672" dy="14.9">* lengthSafety</tspan><tspan x="1672" dy="14.9">* emptyMaterial</tspan><tspan x="1672" dy="14.9">* worldMaterial</tspan><tspan x="1672" dy="14.9">* checkOverlaps</tspan><tspan x="1672" dy="14.9">* sensitiveOuter</tspan><tspan x="1672" dy="14.9">* sensitiveVacuum</tspan><tspan x="1672" dy="14.9">* containerVisAttr</tspan><tspan x="1672" dy="14.9">* SetBiasVacuumList()</tspan><tspan x="1672" dy="14.9">* SetBiasMaterialList()</tspan><tspan x="1672" dy="14.9">* GetArcLength()</tspan><tspan x="1672" dy="14.9">* GetChordLength()</tspan><tspan x="1672" dy="14.9">* InputFaceNormal()</tspan><tspan x="1672" dy="14.9">* OutputFaceNormal()</tspan><tspan x="1672" dy="14.9">* AngledInputFace()</tspan><tspan x="1672" dy="14.9">* AngledOutputFace()</tspan><tspan x="1672" dy="14.9">* GetBiasVacuumList()</tspan><tspan x="1672" dy="14.9">* GetBiasMaterialList()</tspan><tspan x="1672" dy="14.9">* SetInputFaceNormal()</tspan><tspan x="1672" dy="14.9">* SetOutputFaceNormal()</tspan><tspan x="1672" dy="14.9">* operator=()</tspan><tspan x="1672" dy="14.9">* BDSAcceleratorComponent()</tspan></text>
</g>

<g id="n_set_geom">
<rect class="b" x="857" y="4197" width="239" height="75.3"/>
<path class="s" d="M857,4222.1H1096M857,4247.2H1096"/>
<text class="c" x="976.5" y="4214">std::set&lt; BDSGeometryComponent * &gt;</text>
</g>

<g id="n_BDSTerminator">
<rect class="g" x="1474" y="5013" width="209" height="177.5"/>
<path class="s" d="M1474,5038.1H1683M1474,5063.2H1683"/>
<text class="c" x="1578.5" y="5030">BDSTerminator</text>
<text x="1484" y="5055.1">- horizontalWidth</text>
<text x="1484" y="5080.2">+ BDSTerminator()<tspan x="1484" dy="14.6">+ ~BDSTerminator()</tspan><tspan x="1484" dy="14.6">- Build()</tspan><tspan x="1484" dy="14.6">- BuildContainerLogicalVolume()</tspan><tspan x="1484" dy="14.6">- operator=()</tspan><tspan x="1484" dy="14.6">- BDSTerminator()</tspan><tspan x="1484" dy="14.6">* operator=()</tspan><tspan x="1484" dy="14.6">* BDSTerminator()</tspan></text>
</g>
<g id="n_BDSSimpleComponent">
<rect class="b" x="1707" y="5013" width="210" height="177.5"/>
<path class="s" d="M1707,5038.1H1917M1707,5063.2H1917"/>
<text class="c" x="1812" y="5030">BDSSimpleComponent</text>
<text x="1717" y="5080.2">+ BDSSimpleComponent()<tspan x="1717" dy="14.6">+ BDSSimpleComponent()</tspan><tspan x="1717" dy="14.6">+ ~BDSSimpleComponent()</tspan><tspan x="1717" dy="14.6">+ BDSSimpleComponent()</tspan><tspan x="1717" dy="14.6">+ operator=()</tspan><tspan x="1717" dy="14.6">+ BDSSimpleComponent()</tspan><tspan x="1717" dy="14.6"># Build()</tspan><tspan x="1717" dy="14.6"># BuildContainerLogicalVolume()</tspan></text>
</g>
</svg>
